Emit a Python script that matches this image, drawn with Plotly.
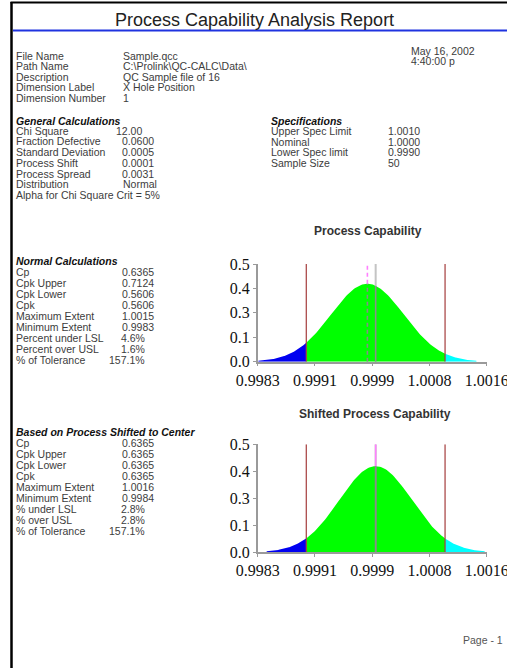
import numpy as np
import plotly.graph_objects as go

W, H = 507, 668
SANS = "Liberation Sans, Arial, sans-serif"
SERIF = "Liberation Serif, Times New Roman, serif"

# ---- report header -------------------------------------------------------
report_title = "Process Capability Analysis Report"
file_labels = ["File Name", "Path Name", "Description", "Dimension Label", "Dimension Number"]
file_values = ["Sample.qcc", "C:\\Prolink\\QC-CALC\\Data\\", "QC Sample file of 16", "X Hole Position", "1"]
report_date = ["May 16, 2002", "4:40:00 p"]

# ---- calculation tables --------------------------------------------------
general_labels = ["Chi Square", "Fraction Defective", "Standard Deviation", "Process Shift",
                  "Process Spread", "Distribution"]
general_values = ["12.00", "0.0600", "0.0005", "0.0001", "0.0031", "Normal"]
general_note = "Alpha for Chi Square Crit = 5%"

spec_labels = ["Upper Spec Limit", "Nominal", "Lower Spec limit", "Sample Size"]
spec_values = ["1.0010", "1.0000", "0.9990", "50"]

normal_labels = ["Cp", "Cpk Upper", "Cpk Lower", "Cpk", "Maximum Extent", "Minimum Extent",
                 "Percent under LSL", "Percent over USL", "% of Tolerance"]
normal_values = ["0.6365", "0.7124", "0.5606", "0.5606", "1.0015", "0.9983", "4.6%", "1.6%", "157.1%"]

shifted_labels = ["Cp", "Cpk Upper", "Cpk Lower", "Cpk", "Maximum Extent", "Minimum Extent",
                  "% under LSL", "% over USL", "% of Tolerance"]
shifted_values = ["0.6365", "0.6365", "0.6365", "0.6365", "1.0016", "0.9984", "2.8%", "2.8%", "157.1%"]

# ---- chart axes ----------------------------------------------------------
x_range = [0.9983, 1.0016]
x_tick_text = ["0.9983", "0.9991", "0.9999", "1.0008", "1.0016"]
y_range = [0.0, 0.5]
y_tick_text = ["0.0", "0.1", "0.3", "0.4", "0.5"]

# ---- distribution parameters taken from the tables -------------------------
USL = float(spec_values[0])
NOMINAL = float(spec_values[1])
LSL = float(spec_values[2])
CP = float(normal_values[0])
CPK_UPPER = float(normal_values[1])
SIGMA = (USL - LSL) / (6 * CP)
MEAN = USL - 3 * SIGMA * CPK_UPPER          # actual process centre
MEAN_SHIFTED = (USL + LSL) / 2              # process moved to the centre of the tolerance


def density(x, mu):
    z = (np.asarray(x) - mu) / SIGMA
    return np.exp(-0.5 * z * z) / np.sqrt(2 * np.pi)


fig = go.Figure()


def add_chart(mu, xa, ya, mean_dash):
    lo, hi = mu - 3 * SIGMA, mu + 3 * SIGMA
    pieces = [(lo, LSL, "#0000f0"), (LSL, USL, "#00ff00"), (USL, hi, "#00ffff")]
    for a, b, col in pieces:
        xs = np.linspace(a, b, 120)
        fig.add_trace(go.Scatter(x=xs, y=density(xs, mu), mode="lines", fill="tozeroy",
                                 fillcolor=col, line=dict(width=0, color=col),
                                 xaxis=xa, yaxis=ya, hoverinfo="skip"))
    top = y_range[1]
    # spec limits
    for v in (LSL, USL):
        fig.add_trace(go.Scatter(x=[v, v], y=[0, top], mode="lines",
                                 line=dict(color="#a43c3c", width=1.2),
                                 xaxis=xa, yaxis=ya, hoverinfo="skip"))
    # nominal
    hn = float(density(NOMINAL, mu))
    fig.add_trace(go.Scatter(x=[NOMINAL, NOMINAL], y=[hn, top], mode="lines",
                             line=dict(color="#c4c4c4", width=2), xaxis=xa, yaxis=ya, hoverinfo="skip"))
    fig.add_trace(go.Scatter(x=[NOMINAL, NOMINAL], y=[0, hn], mode="lines",
                             line=dict(color="#8c8c8c", width=1.6), xaxis=xa, yaxis=ya, hoverinfo="skip"))
    # process mean
    hm = float(density(mu, mu))
    fig.add_trace(go.Scatter(x=[mu, mu], y=[hm, top], mode="lines",
                             line=dict(color="#ff80ff", width=1.6, dash=mean_dash),
                             xaxis=xa, yaxis=ya, hoverinfo="skip"))
    fig.add_trace(go.Scatter(x=[mu, mu], y=[0, hm], mode="lines",
                             line=dict(color="#8a8a8a", width=1.6, dash=mean_dash),
                             xaxis=xa, yaxis=ya, hoverinfo="skip"))


add_chart(MEAN, "x", "y", "4px,3px")
add_chart(MEAN_SHIFTED, "x2", "y2", "solid")

x_ticks = list(np.linspace(x_range[0], x_range[1], len(x_tick_text)))
y_ticks = list(np.linspace(y_range[0], y_range[1], len(y_tick_text)))


def xaxis(anchor):
    return dict(domain=[257.7 / W, 486.7 / W], range=x_range, tickvals=x_ticks, ticktext=x_tick_text,
                showline=True, linecolor="#9a9a9a", linewidth=1.5, ticks="outside", ticklen=3,
                tickcolor="#9a9a9a", showgrid=False, zeroline=False, anchor=anchor,
                automargin=False, ticklabeloverflow="allow",
                tickfont=dict(family=SERIF, size=16, color="#111"))


def yaxis(anchor, top_px, bottom_px):
    return dict(domain=[1 - bottom_px / H, 1 - top_px / H], range=y_range, tickvals=y_ticks,
                ticktext=y_tick_text, showline=True, linecolor="#9a9a9a", linewidth=1.5,
                ticks="outside", ticklen=3, tickcolor="#9a9a9a", showgrid=False, zeroline=False,
                anchor=anchor, automargin=False, ticklabeloverflow="allow",
                tickfont=dict(family=SERIF, size=16, color="#111"))


annotations = []
FS = 10.5   # body text size


def txt(s, x, y, size=FS, color="#3c3c3c", anchor="left", bold=False, italic=False, family=SANS):
    if bold:
        s = f"<b>{s}</b>"
    if italic:
        s = f"<i>{s}</i>"
    annotations.append(dict(text=s, x=x / W, y=1 - y / H, xref="paper", yref="paper",
                            xanchor=anchor, yanchor="middle", showarrow=False, borderpad=0,
                            font=dict(family=family, size=size, color=color)))


# Arial advance widths (em) for the characters that follow a decimal point
ADV = {".": 0.278, "%": 0.889}


def value(s, xdec, y):
    # numbers line up on the decimal point, words start just left of it
    if "." in s:
        frac = s[s.index("."):]
        w = sum(ADV.get(c, 0.556) for c in frac) * FS
        txt(s, xdec + w, y, anchor="right")
    else:
        txt(s, xdec - 6, y)


# header
txt(report_title, 254, 20, size=18, color="#222", anchor="center")
for i, (lab, val) in enumerate(zip(file_labels, file_values)):
    y = 56 + i * 10.4
    txt(lab, 15, y)
    txt(val, 122, y)
for i, s in enumerate(report_date):
    txt(s, 410, 51.5 + i * 9)

# general calculations
txt("General Calculations", 15, 120.7, color="#111", bold=True, italic=True)
for i, (lab, val) in enumerate(zip(general_labels, general_values)):
    y = 130.5 + i * 10.8
    txt(lab, 15, y)
    value(val, 128.3, y)
txt(general_note, 15, 130.5 + len(general_labels) * 10.8)

# specifications
txt("Specifications", 270, 120.7, color="#111", bold=True, italic=True)
for i, (lab, val) in enumerate(zip(spec_labels, spec_values)):
    y = 131 + i * 10.6
    txt(lab, 270, y)
    txt(val, 386.7, y)

# normal calculations
txt("Normal Calculations", 15, 261, color="#111", bold=True, italic=True)
for i, (lab, val) in enumerate(zip(normal_labels, normal_values)):
    y = 271.7 + i * 11
    txt(lab, 15, y)
    value(val, 128.3, y)

# shifted calculations
txt("Based on Process Shifted to Center", 15, 431.7, color="#111", bold=True, italic=True)
for i, (lab, val) in enumerate(zip(shifted_labels, shifted_values)):
    y = 443.3 + i * 11
    txt(lab, 15, y)
    value(val, 128.3, y)

# chart titles and footer
txt("Process Capability", 368.3, 231, size=12, color="#333", anchor="center", bold=True)
txt("Shifted Process Capability", 375, 414, size=12, color="#333", anchor="center", bold=True)
txt("Page - 1", 461.7, 640, size=10.5, color="#555")

shapes = [
    dict(type="line", xref="paper", yref="paper", x0=11.5 / W, x1=11.5 / W, y0=1 - 2 / H, y1=0,
         line=dict(color="#000", width=2.5)),
    dict(type="line", xref="paper", yref="paper", x0=10.5 / W, x1=1, y0=1 - 2.5 / H, y1=1 - 2.5 / H,
         line=dict(color="#000", width=2)),
    dict(type="line", xref="paper", yref="paper", x0=13 / W, x1=1, y0=1 - 30.5 / H, y1=1 - 30.5 / H,
         line=dict(color="#1f33e0", width=2)),
]

fig.update_layout(
    width=W, height=H, margin=dict(l=0, r=0, t=0, b=0, autoexpand=False),
    paper_bgcolor="white", plot_bgcolor="white", showlegend=False,
    xaxis=xaxis("y"), yaxis=yaxis("x", 264, 361.7),
    xaxis2=xaxis("y2"), yaxis2=yaxis("x2", 444.3, 552.3),
    annotations=annotations, shapes=shapes,
)

fig.write_html("out.html")
